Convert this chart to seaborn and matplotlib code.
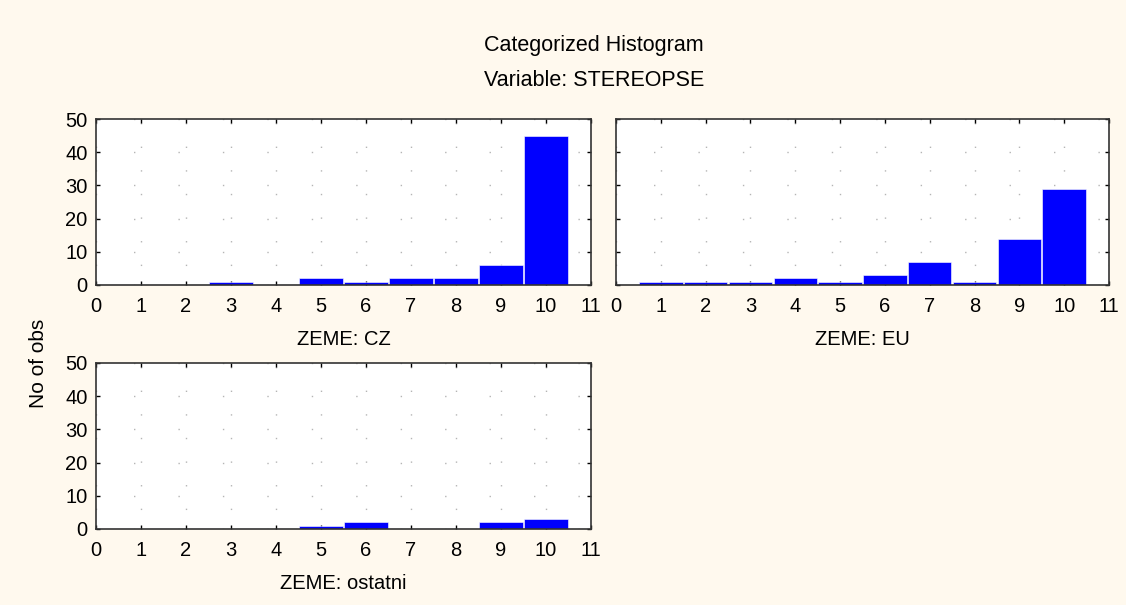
import numpy as np
import pandas as pd
import matplotlib
matplotlib.use("Agg")
import matplotlib.pyplot as plt
import seaborn as sns

values = [1, 2, 3, 4, 5, 6, 7, 8, 9, 10]
cz_counts = [0, 0, 1, 0, 2, 1, 2, 2, 6, 45]
eu_counts = [1, 1, 1, 2, 1, 3, 7, 1, 14, 29]
ostatni_counts = [0, 0, 0, 0, 1, 2, 0, 0, 2, 3]
panel_labels = ["ZEME: CZ", "ZEME: EU", "ZEME: ostatni"]
x_ticks = list(range(0, 12))
y_ticks = [0, 10, 20, 30, 40, 50]

sns.set_theme(style="ticks")
plt.rcParams['font.family'] = ['Liberation Sans', 'DejaVu Sans']
plt.rcParams['text.color'] = 'black'

bg = "#FFF9EE"
fig = plt.figure(figsize=(11.26, 6.05), dpi=100, facecolor=bg)
W, H = 1126, 605

def add_ax(x0, x1, y0, y1):
    return fig.add_axes([x0 / W, 1 - y1 / H, (x1 - x0) / W, (y1 - y0) / H])

ax_cz = add_ax(96, 591, 119, 285)
ax_eu = add_ax(616, 1109, 119, 285)
ax_ot = add_ax(96, 591, 363, 529)

series = [cz_counts, eu_counts, ostatni_counts]
axes = [ax_cz, ax_eu, ax_ot]

for ax, counts, lab in zip(axes, series, panel_labels):
    df = pd.DataFrame({"value": values, "count": counts})
    ax.set_facecolor("white")
    sns.histplot(data=df, x="value", weights="count", discrete=True, shrink=0.97,
                 color="#0000FF", edgecolor="white", linewidth=0.4, alpha=1, ax=ax)
    ax.set_xlim(0, 11)
    ax.set_ylim(0, 50)
    ax.set_xticks(x_ticks)
    ax.set_yticks(y_ticks)
    ax.xaxis.grid(True, color="#B5B5B5", linestyle=(3, (1, 16)), linewidth=1)
    ax.yaxis.grid(True, color="#B5B5B5", linestyle=(5, (1, 31)), linewidth=1)
    ax.set_axisbelow(True)
    ax.tick_params(which="major", direction="in", length=3, width=1, top=True, right=True,
                   labelsize=14.5, colors="black")
    ax.tick_params(axis="x", pad=9)
    ax.tick_params(axis="y", pad=6)
    for s in ax.spines.values():
        s.set_color("#333333")
        s.set_linewidth(1.2)
    ax.set_xlabel(lab, fontsize=14.5, labelpad=10, color="black")
    ax.set_ylabel("")

ax_eu.tick_params(labelleft=False)

fig.text(594 / W, 1 - 45 / H, "Categorized Histogram", ha="center", va="center", fontsize=15.5)
fig.text(594 / W, 1 - 80 / H, "Variable: STEREOPSE", ha="center", va="center", fontsize=15.5)
fig.text(38 / W, 1 - 363 / H, "No of obs", ha="center", va="center", rotation=90, fontsize=15)

fig.savefig("out.png", dpi=100, facecolor=bg)
